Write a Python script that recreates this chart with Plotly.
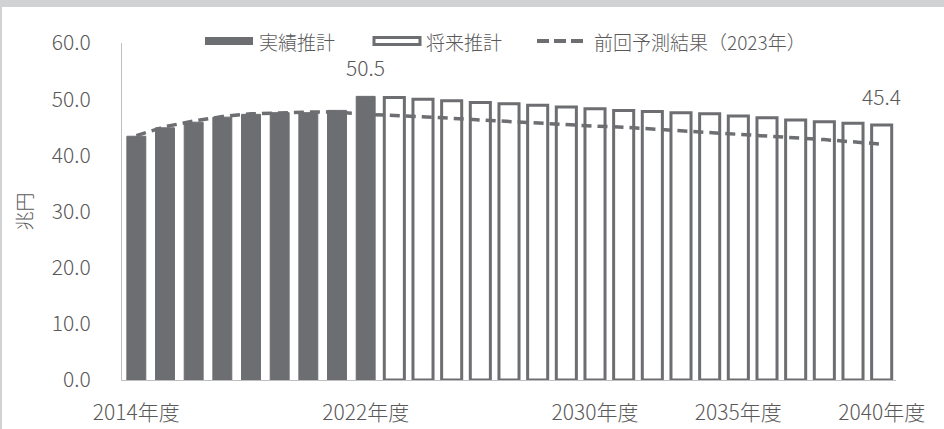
import plotly.graph_objects as go

# ---- data ----
actual_years = list(range(2014, 2023))
actual_values = [43.4, 44.9, 45.9, 46.8, 47.3, 47.6, 47.6, 48.0, 50.5]

future_years = list(range(2023, 2041))
future_values = [50.3, 50.0, 49.7, 49.4, 49.2, 48.9, 48.6, 48.3, 48.0,
                 47.8, 47.6, 47.4, 47.0, 46.7, 46.3, 46.0, 45.7, 45.4]

prev_years = list(range(2014, 2041))
prev_values = [43.5, 45.1, 46.1, 46.9, 47.4, 47.6, 47.7, 47.7, 47.3,
               47.1, 46.9, 46.6, 46.3, 46.0, 45.7, 45.5, 45.2, 45.0,
               44.7, 44.3, 44.0, 43.7, 43.4, 43.1, 42.8, 42.4, 42.0]

tick_years = [2014, 2022, 2030, 2035, 2040]
tick_labels = ["2014年度", "2022年度", "2030年度", "2035年度", "2040年度"]

legend_names = ["実績推計", "将来推計", "前回予測結果（2023年）"]
y_title = "兆円"

# ---- style ----
W, H = 944, 429
ML, MR, MT, MB = 122, 48, 43, 49
PW, PH = W - ML - MR, H - MT - MB
GREY = "#6d6e71"
TXT = "#595959"
FONT = "Noto Sans CJK JP"
FS = 19
TFS = 21


def px(x):
    return (x - ML) / PW


def py(y):
    return (H - MB - y) / PH


fig = go.Figure()
fig.add_trace(go.Bar(x=actual_years, y=actual_values, width=0.66,
                     marker=dict(color=GREY, line=dict(color=GREY, width=1)),
                     name=legend_names[0], showlegend=False))
fig.add_trace(go.Bar(x=future_years, y=future_values, width=0.7,
                     marker=dict(color="white", line=dict(color=GREY, width=3)),
                     name=legend_names[1], showlegend=False))
fig.add_trace(go.Scatter(x=prev_years, y=prev_values, mode="lines",
                         line=dict(color=GREY, width=3.5, dash="10px,6px"),
                         name=legend_names[2], showlegend=False))

# value labels
for yr, val in [(actual_years[-1], actual_values[-1]), (future_years[-1], future_values[-1])]:
    fig.add_annotation(x=yr, y=val, text=f"{val:.1f}", showarrow=False,
                       yanchor="middle", yshift=29,
                       font=dict(family=FONT, size=TFS, color=TXT, weight=300))

shapes = []
# frame: grey top band and left border
shapes.append(dict(type="rect", xref="paper", yref="paper", x0=px(0), x1=px(W),
                   y0=py(7), y1=py(0), fillcolor="#d1d2d4", line=dict(width=0), layer="below"))
shapes.append(dict(type="rect", xref="paper", yref="paper", x0=px(0), x1=px(2),
                   y0=py(H), y1=py(0), fillcolor="#d1d2d4", line=dict(width=0), layer="below"))
# legend swatches
shapes.append(dict(type="rect", xref="paper", yref="paper", x0=px(205), x1=px(253),
                   y0=py(45), y1=py(37), fillcolor=GREY, line=dict(width=0)))
shapes.append(dict(type="rect", xref="paper", yref="paper", x0=px(374), x1=px(420),
                   y0=py(44.5), y1=py(37.5), fillcolor="white", line=dict(color=GREY, width=3)))
shapes.append(dict(type="line", xref="paper", yref="paper", x0=px(537), x1=px(585),
                   y0=py(41), y1=py(41), line=dict(color=GREY, width=4, dash="12px,5px")))
fig.update_layout(shapes=shapes)

for x0, name in [(257, legend_names[0]), (424, legend_names[1]), (592, legend_names[2])]:
    fig.add_annotation(xref="paper", yref="paper", x=px(x0), y=py(41), text=name,
                       showarrow=False, xanchor="left", yanchor="middle",
                       font=dict(family=FONT, size=FS, color=TXT, weight=300))

fig.update_layout(
    width=W, height=H,
    margin=dict(l=ML, r=MR, t=MT, b=MB, pad=0, autoexpand=False),
    paper_bgcolor="white", plot_bgcolor="white",
    barmode="overlay", showlegend=False,
    font=dict(family=FONT, size=FS, color=TXT, weight=300),
    xaxis=dict(range=[2013.5, 2040.5], tickvals=tick_years, ticktext=tick_labels,
               showgrid=False, zeroline=False, showline=True, linecolor="#bfbfbf",
               linewidth=1, ticks="", ticklabelstandoff=14, automargin=False,
               tickfont=dict(family=FONT, size=TFS, color=TXT, weight=300)),
    yaxis=dict(range=[0, 60], dtick=10, tickformat=".1f", showgrid=False,
               zeroline=False, showline=True, linecolor="#bfbfbf", linewidth=1,
               ticks="", ticklabelstandoff=26, automargin=False,
               tickfont=dict(family=FONT, size=TFS, color=TXT, weight=300),
               title=dict(text=y_title, standoff=14,
                          font=dict(family=FONT, size=FS, color=TXT, weight=300))),
)

fig.write_html("out.html", config={"displayModeBar": False},
               post_script="document.body.style.margin='0';document.body.style.overflow='hidden';")
